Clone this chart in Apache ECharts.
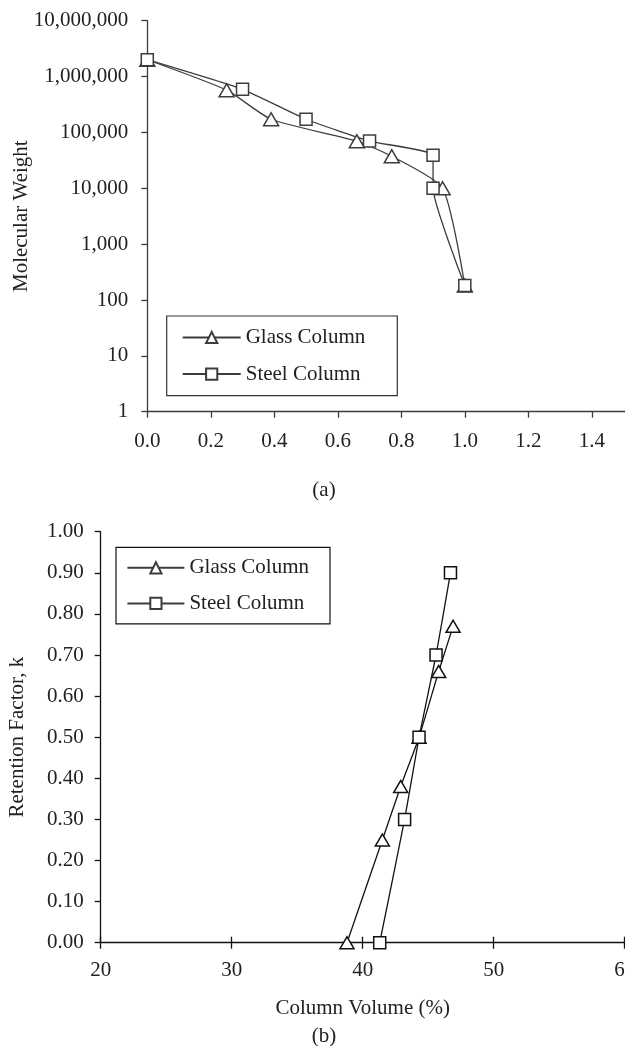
<!DOCTYPE html>
<html>
<head>
<meta charset="utf-8">
<script src="https://cdn.jsdelivr.net/npm/echarts@6/dist/echarts.min.js"></script>
<style>
html,body{margin:0;padding:0;background:#fff;}
#chart{width:625px;height:1046px;}
</style>
</head>
<body>
<div id="chart"></div>
<script>
// ---- Data: panel (a) ----
const glassFrac = [0, 0.25, 0.39, 0.66, 0.77, 0.93, 1.0];
const glassMW   = [2000000, 570000, 172000, 69500, 37400, 10000, 181];
const steelFrac = [0, 0.30, 0.50, 0.70, 0.90, 0.90, 1.0];
const steelMW   = [2000000, 590000, 172000, 70000, 39000, 10000, 181];

// ---- Data: panel (b) ----
const glassCV = [38.8, 41.5, 42.9, 44.3, 45.8, 46.9];
const glassK  = [0, 0.25, 0.38, 0.50, 0.66, 0.77];
const steelCV = [41.3, 43.2, 44.3, 45.6, 46.7];
const steelK  = [0, 0.30, 0.50, 0.70, 0.90];

const seriesNames = ['Glass Column', 'Steel Column'];

const FONT = 'Liberation Serif';
const FS = 21;
const TXT = '#222';

function pairs(xs, ys){ return xs.map((x,i)=>[x, ys[i]]); }

const chart = echarts.init(document.getElementById('chart'), null, {renderer:'canvas'});

const colA = '#3c3c3c';
const colB = '#111';

const option = {
  animation: false,
  backgroundColor: '#fff',
  textStyle: {fontFamily: FONT, color: TXT},
  grid: [
    {left: 147.3, top: 20.7, width: 508, height: 391, containLabel: false, outerBoundsMode: 'none'},
    {left: 100.7, top: 531.7, width: 524, height: 411, containLabel: false, outerBoundsMode: 'none'}
  ],
  xAxis: [
    {
      gridIndex: 0, type: 'value', min: 0, max: 1.6, interval: 0.2,
      axisLine: {show: true, lineStyle: {color: colA, width: 1.3}},
      axisTick: {show: true, inside: false, length: 6, lineStyle: {color: colA, width: 1.3}},
      axisLabel: {fontFamily: FONT, fontSize: FS, color: TXT, margin: 19, formatter: v => v.toFixed(1)},
      splitLine: {show: false}
    },
    {
      gridIndex: 1, type: 'value', min: 20, max: 60, interval: 10, position: 'bottom',
      name: 'Column Volume (%)', nameLocation: 'middle', nameGap: 55, nameMoveOverlap: false,
      nameTextStyle: {fontFamily: FONT, fontSize: FS, color: TXT},
      axisLine: {show: true, lineStyle: {color: colB, width: 1.3}},
      axisTick: {show: true, inside: false, length: 6, lineStyle: {color: colB, width: 1.3}},
      axisLabel: {fontFamily: FONT, fontSize: FS, color: TXT, margin: 17},
      splitLine: {show: false}
    },
    {
      gridIndex: 1, type: 'value', min: 20, max: 60, interval: 10, position: 'bottom',
      axisLine: {show: false},
      axisTick: {show: true, inside: true, length: 6, lineStyle: {color: colB, width: 1.3}},
      axisLabel: {show: false},
      splitLine: {show: false}
    }
  ],
  yAxis: [
    {
      gridIndex: 0, type: 'log', logBase: 10, min: 1, max: 10000000,
      name: 'Molecular Weight', nameLocation: 'middle', nameGap: 115, nameMoveOverlap: false,
      nameTextStyle: {fontFamily: FONT, fontSize: FS, color: TXT},
      axisLine: {show: true, lineStyle: {color: colA, width: 1.3}},
      axisTick: {show: true, inside: false, length: 6, lineStyle: {color: colA, width: 1.3}},
      axisLabel: {fontFamily: FONT, fontSize: FS, color: TXT, margin: 19,
        formatter: v => Math.round(v).toLocaleString('en-US')},
      splitLine: {show: false},
      minorTick: {show: false}
    },
    {
      gridIndex: 1, type: 'value', min: 0, max: 1, interval: 0.1,
      name: 'Retention Factor, k', nameLocation: 'middle', nameGap: 73, nameMoveOverlap: false,
      nameTextStyle: {fontFamily: FONT, fontSize: FS, color: TXT},
      axisLine: {show: true, lineStyle: {color: colB, width: 1.3}},
      axisTick: {show: true, inside: false, length: 6, lineStyle: {color: colB, width: 1.3}},
      axisLabel: {fontFamily: FONT, fontSize: FS, color: TXT, margin: 17, formatter: v => v.toFixed(2)},
      splitLine: {show: false}
    }
  ],
  legend: [
    {
      orient: 'vertical', left: 166.7, top: 316,
      data: seriesNames,
      itemWidth: 58, itemHeight: 14, itemGap: 15.6,
      padding: [11, 32, 11, 15],
      borderColor: '#333', borderWidth: 1.2, borderRadius: 0,
      textStyle: {fontFamily: FONT, fontSize: FS, color: TXT},
      selectedMode: false
    },
    {
      orient: 'vertical', left: 116, top: 547.3,
      data: seriesNames,
      itemWidth: 57, itemHeight: 14, itemGap: 14.6,
      padding: [10, 21, 10, 10.4],
      borderColor: '#111', borderWidth: 1.2, borderRadius: 0,
      textStyle: {fontFamily: FONT, fontSize: FS, color: TXT},
      selectedMode: false
    }
  ],
  graphic: [
    {type: 'text', x: 324, y: 490, style: {text: '(a)', font: FS + 'px ' + FONT, fill: TXT, align: 'center', verticalAlign: 'middle'}},
    {type: 'text', x: 324, y: 1036.7, style: {text: '(b)', font: FS + 'px ' + FONT, fill: TXT, align: 'center', verticalAlign: 'middle'}}
  ],
  series: [
    {
      name: seriesNames[0], type: 'line', xAxisIndex: 0, yAxisIndex: 0,
      data: pairs(glassFrac, glassMW), smooth: 0.2,
      symbol: 'triangle', symbolSize: [15, 13], showSymbol: true,
      lineStyle: {color: colA, width: 1.3},
      itemStyle: {color: '#fff', borderColor: colA, borderWidth: 1.5}
    },
    {
      name: seriesNames[1], type: 'line', xAxisIndex: 0, yAxisIndex: 0,
      data: pairs(steelFrac, steelMW), smooth: 0.15,
      symbol: 'rect', symbolSize: 12, showSymbol: true,
      lineStyle: {color: colA, width: 1.3},
      itemStyle: {color: '#fff', borderColor: colA, borderWidth: 1.5}
    },
    {
      name: seriesNames[0], type: 'line', xAxisIndex: 1, yAxisIndex: 1,
      data: pairs(glassCV, glassK), smooth: 0.2,
      symbol: 'triangle', symbolSize: [14, 12], showSymbol: true,
      lineStyle: {color: colB, width: 1.3},
      itemStyle: {color: '#fff', borderColor: colB, borderWidth: 1.5}
    },
    {
      name: seriesNames[1], type: 'line', xAxisIndex: 1, yAxisIndex: 1,
      data: pairs(steelCV, steelK), smooth: 0.15,
      symbol: 'rect', symbolSize: 12, showSymbol: true,
      lineStyle: {color: colB, width: 1.3},
      itemStyle: {color: '#fff', borderColor: colB, borderWidth: 1.5}
    }
  ]
};
chart.setOption(option);
</script>
</body>
</html>
